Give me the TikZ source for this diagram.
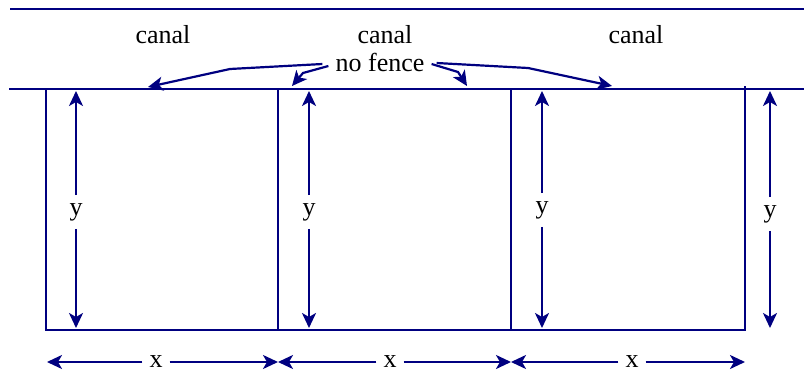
\documentclass[tikz,border=0pt]{standalone}
\usepackage{fontspec}
\setmainfont{Liberation Serif}
\usetikzlibrary{arrows.meta}
\definecolor{fencenavy}{RGB}{0,0,128}

\begin{document}
\begin{tikzpicture}[x=1pt,y=-1pt,
    wall/.style={draw=fencenavy,line width=2.6pt},
    dim/.style={draw=fencenavy,line width=2.2pt,-{Stealth[length=15pt,width=14pt,inset=4pt]}},
    lbl/.style={font=\rmfamily\fontsize{26}{30}\selectfont,inner sep=0pt}]
  \useasboundingbox (0,0) rectangle (804,377);
  % canal banks
  \draw[wall] (10,9) -- (804,9);
  \draw[wall] (9,89) -- (804,89);
  % the three pens
  \draw[wall] (46,89) -- (46,330) -- (745,330) -- (745,86);
  \foreach \px in {278,511}
    \draw[wall] (\px,89) -- (\px,330);
  % canal labels
  \node[lbl] (canalA) at (163,35) {canal};
  \node[lbl] (canalB) at (385,35) {canal};
  \node[lbl] (canalC) at (636,35) {canal};
  % no fence along the bank
  \node[lbl,inner xsep=7pt] (nofence) at (380,62) {no fence};
  \coordinate (nfA) at (148,87);
  \coordinate (nfB) at (292,86);
  \coordinate (nfC) at (467,86);
  \coordinate (nfD) at (612,86);
  \draw[dim] ([xshift=-6pt,yshift=-2pt]nofence.west) -- (230,69) -- (nfA);
  \draw[dim] ([yshift=-4pt]nofence.west) -- (303,73) -- (nfB);
  \draw[dim] ([yshift=-2pt]nofence.east) -- (458,72) -- (nfC);
  \draw[dim] ([xshift=5pt,yshift=-1pt]nofence.east) -- (528,68) -- (nfD);
  % depth y of each pen
  \foreach \i/\px/\py in {1/76/212,2/309/212,3/542/210,4/770/214} {
    \node[lbl,inner ysep=8pt] (y\i) at (\px,\py) {y};
    \coordinate (yt\i) at (\px,91);
    \coordinate (yb\i) at (\px,328);
    \draw[dim] (y\i) -- (yt\i);
    \draw[dim] (y\i) -- (yb\i);
  }
  % width x of each pen
  \foreach \i/\xa/\xm/\xb in {1/47/156/278,2/278/390/511,3/511/632/745} {
    \node[lbl,inner xsep=7pt] (x\i) at (\xm,362) {x};
    \coordinate (xl\i) at (\xa,362);
    \coordinate (xr\i) at (\xb,362);
    \draw[dim] (x\i) -- (xl\i);
    \draw[dim] (x\i) -- (xr\i);
  }
\end{tikzpicture}
\end{document}
